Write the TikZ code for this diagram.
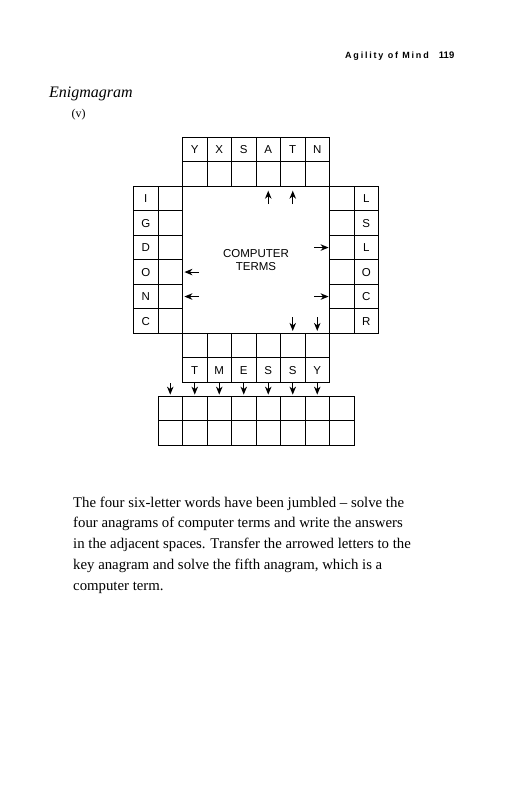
\documentclass[tikz,border=0pt]{standalone}
\usepackage{fontspec}
\setmainfont{Liberation Serif}
\setsansfont{Liberation Sans}
\newfontfamily\hdrfont[LetterSpace=20]{Liberation Sans}
\usetikzlibrary{arrows.meta}
\tikzset{
  cell/.style={draw, line width=0.8pt, minimum size=24.5pt, inner sep=0pt,
    font=\sffamily\fontsize{11.5}{12}\selectfont},
  arr/.style={-{Stealth[length=8pt,width=6.5pt,inset=2.5pt]}, line width=1.1pt},
  bodyline/.style={anchor=base west, inner sep=0pt, font=\fontsize{14.8}{17}\selectfont},
}
\def\U{24.5}
\def\XO{182.5}
\def\YO{186.3}
\def\KY{396}
\begin{document}
\begin{tikzpicture}[x=1pt,y=-1pt]
\useasboundingbox (0,0) rectangle (513,800);
\fill[white] (0,0) rectangle (513,800);
% header
\node[anchor=base west, inner sep=0pt, font=\hdrfont\bfseries\fontsize{9}{10}\selectfont] (hdrA) at (345,58.5) {Agility of Mind};
\node[anchor=base east, inner sep=0pt, font=\sffamily\bfseries\fontsize{9.5}{10}\selectfont] (hdrB) at (454.5,58.5) {119};
\node[anchor=base west, inner sep=0pt, font=\itshape\fontsize{16}{18}\selectfont] (title) at (49,97.5) {Enigmagram};
\node[anchor=base west, inner sep=0pt, font=\fontsize{12}{14}\selectfont] (num) at (71.5,117.5) {(v)};
% top block
\foreach \l [count=\c from 0] in {Y,X,S,A,T,N} {
  \node[cell] (tl\c) at ({\XO+(\c+0.5)*\U},{\YO-1.5*\U}) {\l};
  \node[cell] (te\c) at ({\XO+(\c+0.5)*\U},{\YO-0.5*\U}) {};
}
% left block
\foreach \l [count=\r from 0] in {I,G,D,O,N,C} {
  \node[cell] (ll\r) at ({\XO-1.5*\U},{\YO+(\r+0.5)*\U}) {\l};
  \node[cell] (le\r) at ({\XO-0.5*\U},{\YO+(\r+0.5)*\U}) {};
}
% right block
\foreach \l [count=\r from 0] in {L,S,L,O,C,R} {
  \node[cell] (re\r) at ({\XO+6.5*\U},{\YO+(\r+0.5)*\U}) {};
  \node[cell] (rl\r) at ({\XO+7.5*\U},{\YO+(\r+0.5)*\U}) {\l};
}
% bottom block
\foreach \l [count=\c from 0] in {T,M,E,S,S,Y} {
  \node[cell] (be\c) at ({\XO+(\c+0.5)*\U},{\YO+6.5*\U}) {};
  \node[cell] (bl\c) at ({\XO+(\c+0.5)*\U},{\YO+7.5*\U}) {\l};
}
% key anagram
\foreach \k in {0,...,7} {
  \node[cell] (ka\k) at ({\XO+(\k-0.5)*\U},{\KY+0.5*\U}) {};
  \node[cell] (kb\k) at ({\XO+(\k-0.5)*\U},{\KY+1.5*\U}) {};
}
% centre text
\node[align=center, inner sep=0pt, font=\sffamily\fontsize{11.5}{12.5}\selectfont] (ct) at ({\XO+3*\U},{\YO+3*\U}) {COMPUTER\\TERMS};
% arrows up
\foreach \c in {3,4} {
  \coordinate (ut\c) at ({\XO+(\c+0.5)*\U},204);
  \draw[arr, shorten >=4pt] (ut\c) -- (te\c.south);
}
% arrows left
\foreach \r in {3,4} {
  \coordinate (lt\r) at (199,{\YO+(\r+0.5)*\U});
  \draw[arr, shorten >=1.5pt] (lt\r) -- (le\r.east);
}
% arrows right
\foreach \r in {2,4} {
  \coordinate (rt\r) at (314,{\YO+(\r+0.5)*\U});
  \draw[arr, shorten >=0.5pt] (rt\r) -- (re\r.west);
}
% arrows down into bottom block
\foreach \c in {4,5} {
  \coordinate (dt\c) at ({\XO+(\c+0.5)*\U},317);
  \draw[arr, shorten >=2pt] (dt\c) -- (be\c.north);
}
% arrows down to key
\foreach \k in {0,...,6} {
  \coordinate (kt\k) at ({\XO+(\k-0.5)*\U},383);
  \draw[arr, shorten >=1pt] (kt\k) -- (ka\k.north);
}
% body text
\node[bodyline] (b1) at (73,507) {The four six-letter words have been jumbled -- solve the};
\node[bodyline] (b2) at (73,527.8) {four anagrams of computer terms and write the answers};
\node[bodyline] (b3) at (73,548.6) {in the adjacent spaces. Transfer the arrowed letters to the};
\node[bodyline] (b4) at (73,569.4) {key anagram and solve the fifth anagram, which is a};
\node[bodyline] (b5) at (73,590.2) {computer term.};
\end{tikzpicture}
\end{document}
